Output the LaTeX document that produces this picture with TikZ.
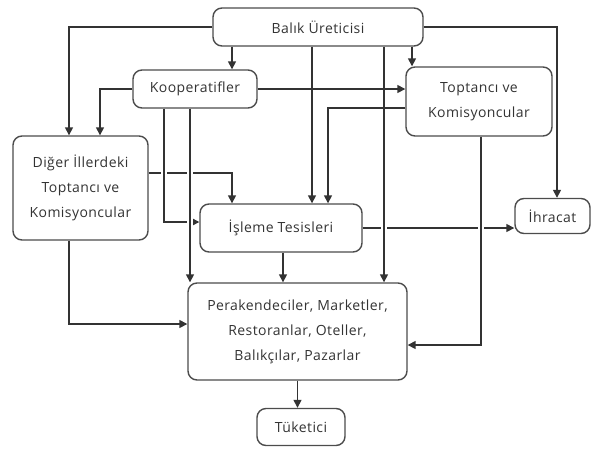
\documentclass[tikz,border=0pt]{standalone}
\usepackage{fontspec}
\setmainfont{Open Sans}[LetterSpace=3]
\usetikzlibrary{arrows.meta}

\tikzset{
	kutu/.style={draw=black!70, line width=1.4pt, rounded corners=9pt, align=center, text=black!80, inner sep=0pt, font=\fontsize{14}{25}\selectfont},
	ok/.style={draw=black!80, line width=1.5pt, -{Triangle[length=8pt,width=8pt]}},
	atla/.style={ok, preaction={draw=white, line width=6pt, -, shorten <=4pt, shorten >=10pt}}
}

\begin{document}
\begin{tikzpicture}[x=1pt,y=-1pt]
	\useasboundingbox (0,0) rectangle (592,448);
	
	\node[kutu, minimum width=210pt, minimum height=38pt] (uretici) at (318,27) {Balık Üreticisi};
	\node[kutu, minimum width=124pt, minimum height=38pt] (koop) at (195,89) {Kooperatifler};
	\node[kutu, minimum width=146pt, minimum height=69pt] (toptanci) at (479,101.5) {Toptancı ve\\Komisyoncular};
	\node[kutu, minimum width=135pt, minimum height=104pt] (diger) at (80.5,188) {Diğer İllerdeki\\Toptancı ve\\Komisyoncular};
	\node[kutu, minimum width=162pt, minimum height=48pt] (isleme) at (281,228) {İşleme Tesisleri};
	\node[kutu, minimum width=75pt, minimum height=35pt] (ihracat) at (552.5,216) {İhracat};
	\node[kutu, minimum width=219pt, minimum height=97pt] (perak) at (297.5,331.5) {Perakendeciler, Marketler,\\Restoranlar, Oteller,\\Balıkçılar, Pazarlar};
	\node[kutu, minimum width=88pt, minimum height=37pt] (tuketici) at (301,427) {Tüketici};
	
	% sutunlar ve satirlar
	\coordinate (s1) at (69,0);
	\coordinate (s2) at (100,0);
	\coordinate (s3) at (164,0);
	\coordinate (s4) at (190,0);
	\coordinate (s5) at (232,0);
	\coordinate (s6) at (312,0);
	\coordinate (s7) at (328,0);
	\coordinate (s8) at (384,0);
	\coordinate (s9) at (412,0);
	\coordinate (s10) at (481,0);
	\coordinate (s11) at (557,0);
	\coordinate (s12) at (283,0);
	\coordinate (r1) at (0,108);
	\coordinate (r2) at (0,173);
	\coordinate (r3) at (0,222);
	\coordinate (r4) at (0,324);
	\coordinate (r5) at (0,345);
	
	\draw[ok] (s5 |- uretici.south) -- (s5 |- koop.north);
	\draw[ok] (uretici.west) -| (s1 |- diger.north);
	\draw[ok] (uretici.east) -| (s11 |- ihracat.north);
	\draw[ok] (s6 |- uretici.south) -- (s6 |- isleme.north);
	\draw[ok] (s9 |- uretici.south) -- (s9 |- toptanci.north);
	\draw[ok] (koop.west) -| (s2 |- diger.north);
	\draw[ok] (diger.east |- r2) -| (s5 |- isleme.north);
	\draw[ok] (isleme.east) -- (isleme.east -| ihracat.west);
	
	% ustten gecenler
	\draw[atla] (s3 |- koop.south) |- (isleme.west |- r3);
	\draw[atla] (s4 |- koop.south) -- (s4 |- perak.north);
	\draw[atla] (s8 |- uretici.south) -- (s8 |- perak.north);
	\draw[atla] (s10 |- toptanci.south) |- (perak.east |- r5);
	
	\draw[ok] (koop.east) -- (koop.east -| toptanci.west);
	\draw[ok] (toptanci.west |- r1) -| (s7 |- isleme.north);
	\draw[ok] (s12 |- isleme.south) -- (s12 |- perak.north);
	\draw[ok] (s1 |- diger.south) |- (perak.west |- r4);
	\draw[ok] (perak.south) -- (perak.south |- tuketici.north);
\end{tikzpicture}
\end{document}
